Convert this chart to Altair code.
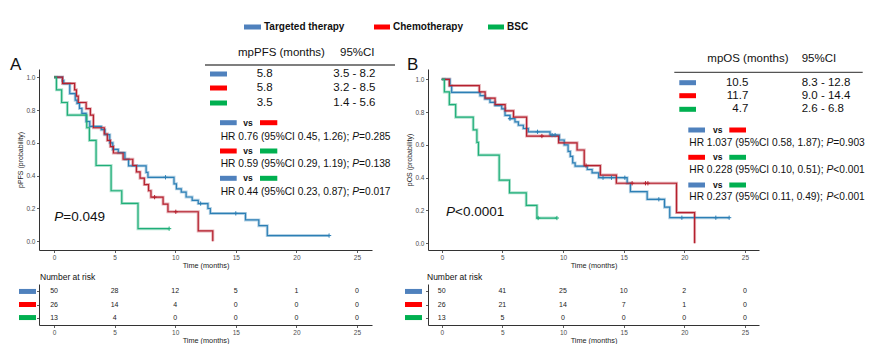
import altair as alt
import pandas as pd

# ---------------- data ----------------
GROUPS = ["Targeted therapy", "Chemotherapy", "BSC"]
SWATCH = ["#4F81BD", "#FF0000", "#00B050"]
LINE = ["#2C7FB5", "#B5202E", "#1FAE78"]

TICKS_X = [0, 5, 10, 15, 20, 25]
TICKS_Y = [0.0, 0.2, 0.4, 0.6, 0.8, 1.0]

# Panel A (PFS) Kaplan-Meier steps
A_TT_T = [0, 0.7, 0.8, 1.3, 1.75, 1.9, 2.1, 2.3, 2.65, 2.95, 3.9, 4.2, 4.6, 4.85, 5.3, 5.85, 6.15, 7.6, 7.75,
          9.9, 10.1, 10.5, 10.9, 11.4, 11.9, 12.7, 12.9, 15.8, 16.9, 17.6, 22.7]
A_TT_S = [1.0, 0.98, 0.96, 0.90, 0.86, 0.84, 0.81, 0.78, 0.73, 0.70, 0.68, 0.65, 0.60, 0.56, 0.54, 0.50, 0.46, 0.42, 0.39,
          0.35, 0.32, 0.30, 0.27, 0.25, 0.23, 0.20, 0.17, 0.13, 0.095, 0.035, 0.035]
A_CT_T = [0, 0.7, 1.7, 1.85, 2.0, 2.65, 3.0, 3.25, 4.15, 4.4, 4.65, 4.9, 5.7, 6.5, 6.8, 7.1, 7.45, 7.8, 8.0,
          9.0, 9.4, 11.9, 13.1]
A_CT_S = [1.0, 0.962, 0.923, 0.885, 0.846, 0.808, 0.769, 0.692, 0.654, 0.615, 0.577, 0.538, 0.50, 0.462, 0.423, 0.385,
          0.346, 0.308, 0.269, 0.227, 0.18, 0.063, 0.0]
A_GR_T = [0, 0.2, 0.63, 1.1, 2.7, 2.92, 3.47, 4.71, 5.59, 6.93, 9.5]
A_GR_S = [1.0, 0.923, 0.846, 0.769, 0.692, 0.615, 0.462, 0.308, 0.231, 0.077, 0.077]
A_CENS_TT = ([9.2, 12.1, 15.0, 22.7], [0.39, 0.23, 0.17, 0.035])
A_CENS_CT = ([8.3, 10.05], [0.269, 0.18])
A_CENS_GR = ([9.5], [0.077])

# Panel B (OS) Kaplan-Meier steps
B_TT_T = [0, 0.68, 0.82, 3.16, 3.57, 3.98, 4.4, 4.95, 5.22, 5.63, 6.04, 6.32, 6.73, 7.14, 8.93, 9.7, 10.1, 10.42,
          10.6, 10.8, 11.0, 12.0, 12.4, 12.94, 15.29, 15.56, 16.94, 18.37, 18.8, 23.7]
B_TT_S = [1.0, 0.96, 0.92, 0.90, 0.88, 0.86, 0.84, 0.82, 0.78, 0.76, 0.74, 0.72, 0.70, 0.68, 0.66, 0.63, 0.60, 0.56,
          0.53, 0.49, 0.47, 0.45, 0.43, 0.40, 0.366, 0.315, 0.268, 0.22, 0.156, 0.156]
B_CT_T = [0, 0.63, 3.1, 3.58, 4.4, 5.23, 5.92, 7.0, 9.64, 11.16, 11.75, 13.08, 14.4, 19.36, 20.85]
B_CT_S = [1.0, 0.962, 0.923, 0.885, 0.846, 0.808, 0.77, 0.654, 0.613, 0.569, 0.474, 0.416, 0.366, 0.187, 0.0]
B_GR_T = [0, 0.22, 0.63, 1.15, 2.6, 2.9, 3.03, 4.74, 5.59, 6.97, 7.85, 9.5]
B_GR_S = [1.0, 0.923, 0.846, 0.769, 0.692, 0.615, 0.538, 0.385, 0.308, 0.231, 0.154, 0.154]
B_CENS_TT = ([5.63, 7.9, 9.1, 9.35, 13.3, 14.0, 15.1, 17.9, 19.8, 22.6, 23.7],
             [0.76, 0.68, 0.66, 0.66, 0.40, 0.40, 0.40, 0.268, 0.156, 0.156, 0.156])
B_CENS_CT = ([8.26, 11.9, 15.7, 16.8, 17.0], [0.654, 0.474, 0.366, 0.366, 0.366])
B_CENS_GR = ([7.95, 9.5], [0.154, 0.154])

# Number at risk
RISK_T = [0, 5, 10, 15, 20, 25]
A_RISK = [[50, 28, 12, 5, 1, 0], [26, 14, 4, 0, 0, 0], [13, 4, 0, 0, 0, 0]]
B_RISK = [[50, 41, 25, 10, 2, 0], [26, 21, 14, 7, 1, 0], [13, 5, 0, 0, 0, 0]]

# Tables
A_HEAD = ["mpPFS (months)", "95%CI"]
A_MED = ["5.8", "5.8", "3.5"]
A_CI = ["3.5 - 8.2", "3.2 - 8.5", "1.4 - 5.6"]
A_HR = ["HR 0.76 (95%CI 0.45, 1.26); ", "HR 0.59 (95%CI 0.29, 1.19); ", "HR 0.44 (95%CI 0.23, 0.87); "]
A_HRP = ["=0.285", "=0.138", "=0.017"]
A_P = "=0.049"
B_HEAD = ["mpOS (months)", "95%CI"]
B_MED = ["10.5", "11.7", "4.7"]
B_CI = ["8.3 - 12.8", "9.0 - 14.4", "2.6 - 6.8"]
B_HR = ["HR 1.037 (95%CI 0.58, 1.87); ", "HR 0.228 (95%CI 0.10, 0.51); ", "HR 0.237 (95%CI 0.11, 0.49); "]
B_HRP = ["=0.903", "<0.001", "<0.001"]
B_P = "<0.0001"
PAIRS = [(0, 1), (1, 2), (0, 2)]

FONT = "Liberation Sans"
PLUS = "M-1,0L1,0M0,-1L0,1"

W = {' ': 278, '(': 333, ')': 333, '%': 889, ',': 278, '.': 278, ';': 278, '-': 333, 'C': 722, 'I': 278,
     'H': 722, 'R': 722, 'P': 667, '=': 584, '<': 584}


def tw(s, size):
    return sum(W.get(c, 556) for c in s) * size / 1000.0


def texts(rows, **props):
    df = pd.DataFrame(rows, columns=["px", "py", "txt"])
    base = dict(font=FONT, baseline="middle", color="#111")
    base.update(props)
    return alt.Chart(df).mark_text(**base).encode(
        x=alt.X("px:Q", scale=None, axis=None),
        y=alt.Y("py:Q", scale=None, axis=None),
        text="txt:N")


def rules(rows, width=5):
    df = pd.DataFrame(rows, columns=["px", "px2", "py", "c"])
    return alt.Chart(df).mark_rule(strokeWidth=width, strokeCap="butt").encode(
        x=alt.X("px:Q", scale=None, axis=None), x2="px2:Q",
        y=alt.Y("py:Q", scale=None, axis=None),
        color=alt.Color("c:N", scale=None, legend=None))


def x_enc(xdom):
    return alt.X("t:Q", scale=alt.Scale(domain=xdom, nice=False, zero=False),
                 axis=alt.Axis(values=TICKS_X, title="Time (months)", tickSize=2.5, labelFontSize=6.5,
                               titleFontSize=7.3, labelPadding=1.5, titlePadding=1))


def km_panel(curves, cens, xdom, ydom, w, h, ytitle, extra):
    rows = []
    for g, (T, S) in zip(GROUPS, curves):
        for i, (t, s) in enumerate(zip(T, S)):
            rows.append(dict(group=g, t=t, s=s, i=i))
    df = pd.DataFrame(rows)
    crow = []
    for g, (T, S) in zip(GROUPS, cens):
        for t, s in zip(T, S):
            crow.append(dict(group=g, t=t, s=s))
    cdf = pd.DataFrame(crow)
    X = x_enc(xdom)
    Y = alt.Y("s:Q", scale=alt.Scale(domain=ydom, nice=False, zero=False),
              axis=alt.Axis(values=TICKS_Y, format=".1f", title=ytitle, tickSize=2.5, labelFontSize=6.5,
                            titleFontSize=7, labelPadding=1.5, titlePadding=2))
    C = alt.Color("group:N", scale=alt.Scale(domain=GROUPS, range=LINE), legend=None)
    base = alt.Chart(df).encode(x=X, y=Y, color=C, order="i:Q")
    halo = base.mark_line(interpolate="step-after", strokeWidth=3, opacity=0.35)
    line = base.mark_line(interpolate="step-after", strokeWidth=1.2)
    cm = alt.Chart(cdf).mark_point(shape=PLUS, size=18, filled=False, strokeWidth=1, opacity=1).encode(
        x=X, y=Y, color=C)
    return alt.layer(halo, line, cm, *extra).properties(width=w, height=h)


def risk_panel(risk, xdom, w, h, sw_x):
    rows = []
    for g, vals in zip(GROUPS, risk):
        for t, n in zip(RISK_T, vals):
            rows.append(dict(group=g, t=t, n=n))
    df = pd.DataFrame(rows)
    ys = alt.Scale(domain=GROUPS, type="point", padding=0.57)
    yax = alt.Axis(labels=False, title=None, tickSize=2.5)
    X = x_enc(xdom)
    txt = alt.Chart(df).mark_text(font=FONT, fontSize=7, color="#222").encode(
        x=X, y=alt.Y("group:N", scale=ys, axis=yax), text="n:Q")
    sdf = pd.DataFrame(dict(group=GROUPS, c=SWATCH))
    sw = alt.Chart(sdf).mark_rule(strokeWidth=5, strokeCap="butt").encode(
        x=alt.value(sw_x[0]), x2=alt.value(sw_x[1]),
        y=alt.Y("group:N", scale=ys, axis=yax),
        color=alt.Color("c:N", scale=None, legend=None))
    title = texts([(sw_x[2], -7, "Number at risk")], align="left", fontSize=8.5)
    return alt.layer(txt, sw, title).properties(width=w, height=h)


def hr_block(hr, hrp, sw_rows, sw1, vs_x, sw2, txt_x, txt_y, size=10.2):
    r = []
    for k, (a, b) in enumerate(PAIRS):
        r.append((sw1[0], sw1[1], sw_rows[k], SWATCH[a]))
        r.append((sw2[0], sw2[1], sw_rows[k], SWATCH[b]))
    normal, ital = [], []
    for k in range(3):
        x0 = txt_x
        normal.append((x0, txt_y[k], hr[k]))
        xp = x0 + tw(hr[k], size)
        ital.append((xp, txt_y[k], "P"))
        normal.append((xp + tw("P", size), txt_y[k], hrp[k]))
    vs = [(vs_x, sw_rows[k], "vs") for k in range(3)]
    return [rules(r, 5),
            texts(vs, align="left", fontSize=8.5, fontWeight="bold"),
            texts(normal, align="left", fontSize=size),
            texts(ital, align="left", fontSize=size, fontStyle="italic")]


# ---------- Panel A annotations (coordinates relative to plot A origin) ----------
anchor = alt.Chart(pd.DataFrame({"px": [-31], "px2": [-30], "py": [-61], "py2": [-60]})).mark_rect(
    opacity=0).encode(x=alt.X("px:Q", scale=None, axis=None), x2="px2:Q",
                      y=alt.Y("py:Q", scale=None, axis=None), y2="py2:Q")

leg_rules = rules([(205, 222, -42, SWATCH[0]), (335, 351, -42, SWATCH[1]), (449, 465, -42, SWATCH[2])], 5)
leg_text = texts([(225, -42, GROUPS[0]), (354, -42, GROUPS[1]), (468, -42, GROUPS[2])],
                 align="left", fontSize=10, fontWeight="bold")

A_rows_y = [5, 19, 34]
A_ann = [
    anchor, leg_rules, leg_text,
    texts([(-29, -4, "A")], align="left", fontSize=17),
    texts([(199, -16, A_HEAD[0]), (301, -16, A_HEAD[1])], align="left", fontSize=11.5),
    rules([(166, 356, -4, "#555")], 1.3),
    rules([(171, 188, A_rows_y[k], SWATCH[k]) for k in range(3)], 5),
    texts([(233.7, A_rows_y[k], A_MED[k]) for k in range(3)], align="right", fontSize=11.5),
    texts([(294.3, A_rows_y[k], A_CI[k]) for k in range(3)], align="left", fontSize=11.5),
    texts([(15.3, 148, "P")], align="left", fontSize=13.5, fontStyle="italic"),
    texts([(15.3 + tw("P", 13.5), 148, A_P)], align="left", fontSize=13.5),
] + hr_block(A_HR, A_HRP, [53.7, 82, 109.3], (181, 197.7), 204.3, (221, 238.3), 181.7, [67.7, 95, 123])

B_rows_y = [13.7, 26.7, 40.3]
B_ann = [
    texts([(-21, -4, "B")], align="left", fontSize=17),
    texts([(279.3, -9.7, B_HEAD[0]), (373.7, -9.7, B_HEAD[1])], align="left", fontSize=11.5),
    rules([(246.3, 434.7, 3.3, "#555")], 1.3),
    rules([(251.3, 268, B_rows_y[k], SWATCH[k]) for k in range(3)], 5),
    texts([(320.3, B_rows_y[k], B_MED[k]) for k in range(3)], align="right", fontSize=11.5),
    texts([(373.7, B_rows_y[k], B_CI[k]) for k in range(3)], align="left", fontSize=11.5),
    texts([(18, 143.3, "P")], align="left", fontSize=13.5, fontStyle="italic"),
    texts([(18 + tw("P", 13.5), 143.3, B_P)], align="left", fontSize=13.5),
] + hr_block(B_HR, B_HRP, [61, 88.3, 116], (260.3, 277), 285, (301.3, 318), 261.3, [74.3, 101, 128])

XA = [-1.24, 26.24]
XB = [-1.13, 26.16]

kmA = km_panel([(A_TT_T, A_TT_S), (A_CT_T, A_CT_S), (A_GR_T, A_GR_S)],
               [A_CENS_TT, A_CENS_CT, A_CENS_GR], XA, [-0.053, 1.05], 333, 181,
               "pPFS (probability)", A_ann)
kmB = km_panel([(B_TT_T, B_TT_S), (B_CT_T, B_CT_S), (B_GR_T, B_GR_S)],
               [B_CENS_TT, B_CENS_CT, B_CENS_GR], XB, [-0.041, 1.063], 331, 181,
               "pOS (probability)", B_ann)
riskA = risk_panel(A_RISK, XA, 333, 41, (-20, -3, 1))
riskB = risk_panel(B_RISK, XB, 331, 41, (-23, -6, -1))

chart = alt.concat(
    kmA, kmB, riskA, riskB, columns=2,
    spacing=alt.RowColnumber(row=34, column=56), bounds="flush", padding=0
).configure_view(
    stroke=None
).configure_axis(
    labelFont=FONT, titleFont=FONT, grid=False, domainColor="#333", tickColor="#333",
    domainWidth=1, tickWidth=0.8, labelColor="#4d4d4d", titleColor="#222", titleFontWeight="normal"
)

chart.save("out.html", embed_options={"renderer": "svg", "actions": False})
